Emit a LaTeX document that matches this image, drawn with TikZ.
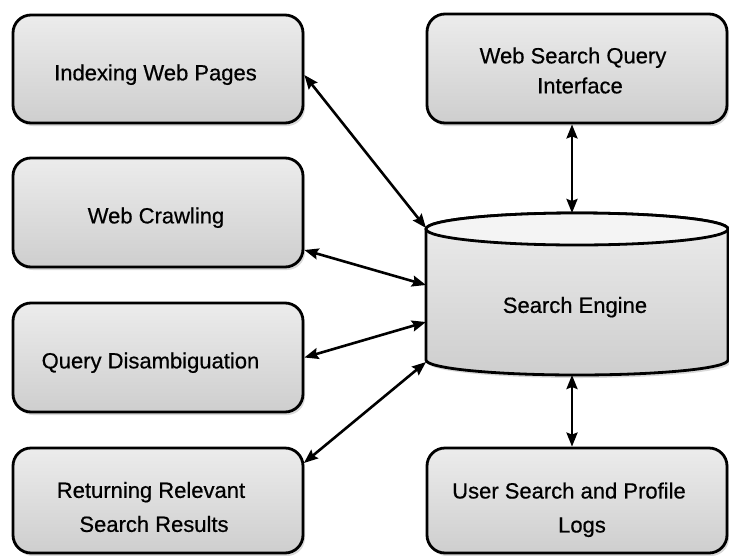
\documentclass[tikz,border=0pt]{standalone}
\usepackage{fontspec}
\setmainfont{Liberation Sans}[FakeBold=0.6]
\usetikzlibrary{arrows.meta,shadows,calc}
\definecolor{boxtop}{RGB}{236,236,236}
\definecolor{boxbot}{RGB}{206,206,206}
\definecolor{cyltop}{RGB}{236,236,236}
\definecolor{cylbot}{RGB}{206,206,206}
\definecolor{lid}{RGB}{244,244,244}
\tikzset{
 box/.style={draw=black, line width=2.8pt, rounded corners=18pt, top color=boxtop, bottom color=boxbot,
   drop shadow={shadow xshift=2pt,shadow yshift=-3pt,opacity=0.3}, inner sep=0pt},
 lbl/.style={font=\fontsize{22}{34}\selectfont, inner sep=0pt, align=center},
 one/.style={text height=15.75pt, text depth=0pt},
 link/.style={line width=2.6pt, {Stealth[length=14pt,width=11pt,inset=2pt]}-{Stealth[length=14pt,width=11pt,inset=2pt]}},
 holder/.style={inner sep=0pt, outer sep=0pt},
 cylbody/.style={draw=black, line width=2.8pt, top color=cyltop, bottom color=cylbot,
   drop shadow={shadow xshift=2pt,shadow yshift=-3pt,opacity=0.3}},
 cyllid/.style={draw=black, line width=2.8pt, fill=lid},
}
\begin{document}
\begin{tikzpicture}[x=1pt,y=-1pt]
\useasboundingbox (0,0) rectangle (729,555);
% left boxes
\node[box, minimum width=290pt, minimum height=108pt] (b1) at (158,69) {};
\node[box, minimum width=290pt, minimum height=109pt] (b2) at (158,212.5) {};
\node[box, minimum width=290pt, minimum height=109pt] (b3) at (158,357.5) {};
\node[box, minimum width=290pt, minimum height=105pt] (b4) at (158,500.5) {};
% right boxes
\node[box, minimum width=300pt, minimum height=109pt] (r1) at (577,68.5) {};
\node[box, minimum width=300pt, minimum height=105pt] (r2) at (577,500.5) {};
% cylinder
\path[cylbody] (426,229) -- (426,360)
  arc[start angle=180,end angle=360,x radius=151pt,y radius=15pt]
  -- (728,229)
  arc[start angle=0,end angle=180,x radius=151pt,y radius=16pt] -- cycle;
\path[cyllid] (577,229) ellipse[x radius=151pt, y radius=16pt];
\node[holder, minimum width=302pt, minimum height=162pt] (eng) at (577,294) {};
% labels
\node[lbl,one] (t1) at (155.5,72.5) {Indexing Web Pages};
\node[lbl,one] (t2) at (156,215.5) {Web Crawling};
\node[lbl,one] (t3) at (150.5,360.5) {Query Disambiguation};
\node[lbl] (t4) at (151,507) {Returning Relevant\\\hspace*{6pt}Search Results};
\node[lbl] (t5) at (573,70.5) {Web Search Query\\[-4pt]\hspace*{14pt}Interface};
\node[lbl,one] (t6) at (575,305) {Search Engine};
\node[lbl] (t7) at (569,509.8) {User Search and Profile\\\hspace*{26pt}Logs};
% connectors
\draw[link] ([yshift=-6pt]b1.east) -- ([yshift=66pt]eng.west);
\draw[link] ([yshift=-37.5pt]b2.east) -- ([yshift=9pt]eng.west);
\draw[link] (b3.east) -- ([yshift=-28pt]eng.west);
\draw[link] ([yshift=37.5pt,xshift=-0.5pt]b4.east) -- ([yshift=-68pt]eng.west);
\draw[link] ([xshift=-5pt]r1.south) -- ([xshift=-5pt]eng.north);
\draw[link] ([xshift=-5pt]eng.south) -- ([xshift=-5pt]r2.north);
\end{tikzpicture}
\end{document}
